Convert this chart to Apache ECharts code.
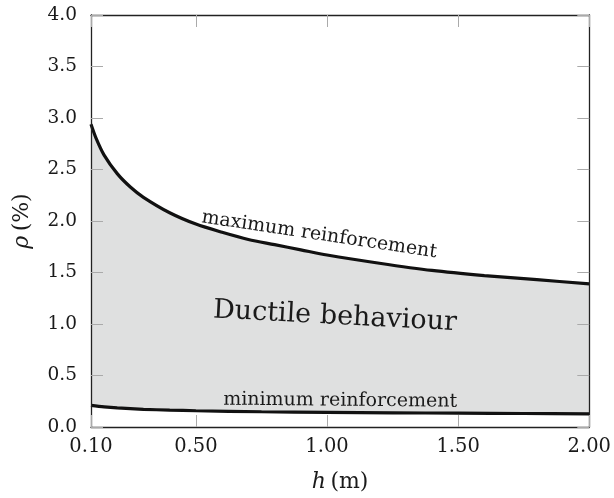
<!DOCTYPE html>
<html>
<head>
<meta charset="utf-8">
<script src="https://cdn.jsdelivr.net/npm/echarts@6/dist/echarts.min.js"></script>
<style>html,body{margin:0;padding:0;background:#fff}#c{width:614px;height:498px}</style>
</head>
<body>
<div id="c"></div>
<script>
// ---- data ----
const hMax = [0.10,0.12,0.15,0.20,0.25,0.30,0.40,0.50,0.60,0.70,0.80,0.90,1.00,1.20,1.40,1.60,1.80,2.00];
const rhoMax = [2.94,2.80,2.64,2.46,2.33,2.23,2.08,1.97,1.89,1.82,1.77,1.72,1.67,1.59,1.52,1.47,1.43,1.39];
const hMin = [0.10,0.15,0.20,0.30,0.40,0.50,0.75,1.00,1.25,1.50,1.75,2.00];
const rhoMin = [0.21,0.195,0.185,0.172,0.164,0.158,0.148,0.142,0.138,0.134,0.131,0.128];
const xTicks = [0.10,0.50,1.00,1.50,2.00];
const yMin = 0, yMax = 4, yStep = 0.5;
const labelMax = 'maximum reinforcement';
const labelMin = 'minimum reinforcement';
const labelRegion = 'Ductile behaviour';

const FONT = 'DejaVu Serif';
const TXT = '#1a1a1a';
const FRAME = '#222';
const TICK = '#aaaaaa';

function pairs(xs, ys){ return xs.map((x,i)=>[x, ys[i]]); }

const chart = echarts.init(document.getElementById('c'), null, {renderer:'canvas'});

function xAx(pos, show){
  return {
    type:'value', position:pos, min:0.1, max:2.0, z:5,
    axisLine:{show:true, onZero:false, lineStyle:{color:FRAME, width:1.3}},
    axisTick:{show:true, inside:true, length:12, customValues:xTicks, lineStyle:{color:TICK, width:1}},
    axisLabel:{show:show, customValues:xTicks, formatter:v=>v.toFixed(2), fontFamily:FONT, fontSize:19.5, color:TXT, margin:10},
    splitLine:{show:false},
    name: show ? '{i|h}\u2009(m)' : '',
    nameLocation:'middle', nameGap:44,
    nameTextStyle:{fontFamily:FONT, fontSize:22, color:TXT, rich:{i:{fontFamily:FONT, fontStyle:'italic', fontSize:22, color:TXT}}}
  };
}
function yAx(pos, show){
  return {
    type:'value', position:pos, min:yMin, max:yMax, interval:yStep, z:5,
    axisLine:{show:true, onZero:false, lineStyle:{color:FRAME, width:1.3}},
    axisTick:{show:true, inside:true, length:12, lineStyle:{color:TICK, width:1}},
    axisLabel:{show:show, formatter:v=>v.toFixed(1), fontFamily:FONT, fontSize:18.5, color:TXT, margin:14},
    splitLine:{show:false},
    name: show ? '{i|\u03c1}\u2009(%)' : '',
    nameLocation:'middle', nameGap:58, nameRotate:90,
    nameTextStyle:{fontFamily:FONT, fontSize:22, color:TXT, rich:{i:{fontFamily:FONT, fontStyle:'italic', fontSize:22, color:TXT}}}
  };
}

chart.setOption({
  animation:false,
  backgroundColor:'#fff',
  grid:{left:91, right:22, top:15, bottom:70, containLabel:false},
  xAxis:[xAx('bottom', true), xAx('top', false)],
  yAxis:[yAx('left', true), yAx('right', false)],
  series:[
    {type:'line', name:'max', data:pairs(hMax, rhoMax), smooth:0.3, symbol:'none', z:2,
     lineStyle:{color:'#111', width:3.2}, areaStyle:{color:'#dfe0e0', opacity:1, origin:'start'}},
    {type:'line', name:'min', data:pairs(hMin, rhoMin), smooth:0.3, symbol:'none', z:3,
     lineStyle:{color:'#111', width:3.2}, areaStyle:{color:'#ffffff', opacity:1, origin:'start'}}
  ]
});

const pMax = chart.convertToPixel({xAxisIndex:0, yAxisIndex:0}, [0.97, 1.865]);
const pReg = chart.convertToPixel({xAxisIndex:0, yAxisIndex:0}, [1.03, 1.07]);
const pMin = chart.convertToPixel({xAxisIndex:0, yAxisIndex:0}, [1.05, 0.255]);

chart.setOption({
  graphic:[
    {type:'text', x:pMax[0], y:pMax[1], rotation:-8.5*Math.PI/180, z:10,
     style:{text:labelMax, font:'19px "'+FONT+'"', fill:TXT, align:'center', verticalAlign:'middle'}},
    {type:'text', x:pReg[0], y:pReg[1], rotation:-3*Math.PI/180, z:10,
     style:{text:labelRegion, font:'27px "'+FONT+'"', fill:TXT, align:'center', verticalAlign:'middle'}},
    {type:'text', x:pMin[0], y:pMin[1], rotation:-0.5*Math.PI/180, z:10,
     style:{text:labelMin, font:'19px "'+FONT+'"', fill:TXT, align:'center', verticalAlign:'middle'}}
  ]
});
</script>
</body>
</html>
